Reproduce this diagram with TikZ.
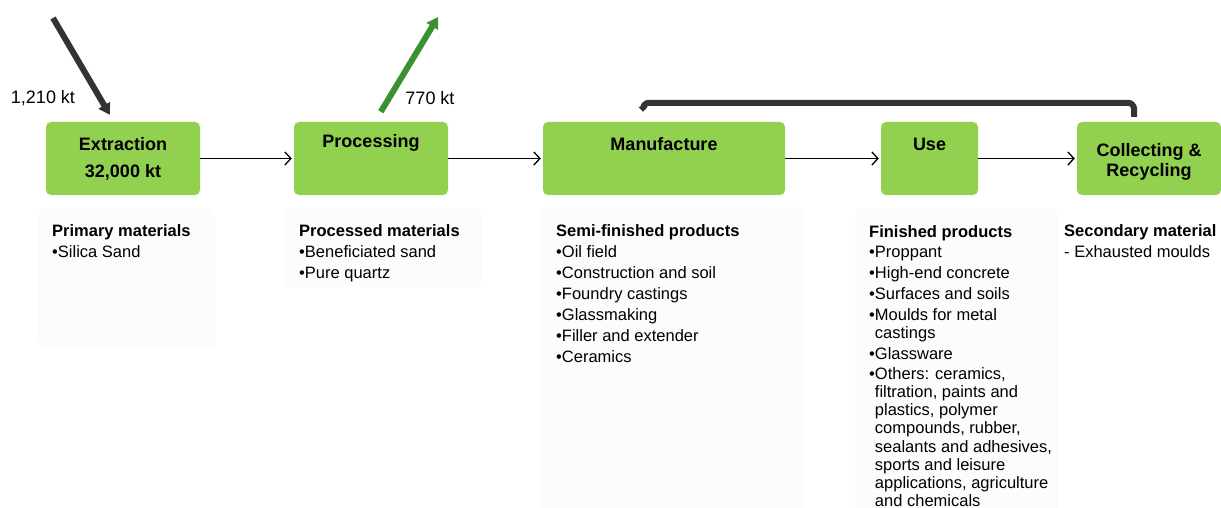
\documentclass[tikz,border=0pt]{standalone}
\usepackage{fontspec}
\setmainfont{Liberation Sans}
\usetikzlibrary{arrows.meta,calc}
\definecolor{stagegreen}{HTML}{92D050}
\definecolor{outgreen}{RGB}{58,145,48}
\definecolor{darkflow}{HTML}{333333}
\definecolor{panelgrey}{HTML}{FCFCFC}
\newcommand{\bul}{\textbullet}
\newcommand{\cont}{\phantom{\textbullet}}

\begin{document}
\begin{tikzpicture}[x=1pt, y=-1pt,
  stage/.style={fill=stagegreen, rounded corners=5pt, inner sep=0pt, minimum height=73pt, align=center,
    font=\fontsize{18}{20}\selectfont\bfseries},
  panel/.style={fill=panelgrey, rounded corners=8pt},
  ptxt/.style={anchor=north west, inner sep=0pt, align=left, font=\fontsize{16.5}{21}\selectfont},
  qty/.style={inner sep=0pt, font=\fontsize{18}{20}\selectfont},
  flow/.style={-{Straight Barb[length=6pt,width=13pt]}, line width=1.3pt, shorten >=2pt},
  bigin/.style={-{Triangle[length=11pt,width=13pt]}, line width=6pt, darkflow},
  bigout/.style={-{Triangle[length=11pt,width=13pt]}, line width=6pt, outgreen},
  loopback/.style={-{Triangle[length=5pt,width=9pt]}, line width=6pt, darkflow, rounded corners=6pt}]
\useasboundingbox (0,0) rectangle (1221,508);
% text panels
\fill[panel] (38,208) rectangle (215,349);
\fill[panel] (284,208) rectangle (482,287);
\fill[panel] (541,207) rectangle (803,520);
\fill[panel] (855,208) rectangle (1058,520);
% stages
\node[stage, minimum width=154pt] (extr) at (123,158.5) {Extraction\\[7pt]32,000 kt};
\node[stage, minimum width=154pt, text height=25.5pt, text depth=47.5pt] (proc) at (371,158.5) {Processing};
\node[stage, minimum width=242pt, text height=28.5pt, text depth=44.5pt] (manu) at (664,158.5) {Manufacture};
\node[stage, minimum width=97pt, text height=28.5pt, text depth=44.5pt] (use) at (929.5,158.5) {Use};
\node[stage, minimum width=144pt] (coll) at (1149,158.5) {\rule{0pt}{19pt}Collecting \&\\[0pt]Recycling};
\draw[flow] (extr) -- (proc);
\draw[flow] (proc) -- (manu);
\draw[flow] (manu) -- (use);
\draw[flow] (use) -- (coll);
% in and out flows
\coordinate (inflow) at (53,18);
\coordinate (outflow) at (438,17);
\draw[bigin] (inflow) -- ($(extr.north west)+(64,-7)$);
\draw[bigout] ($(proc.north west)+(87,-10)$) -- (outflow);
\node[qty] (inqty) at (43,98) {1,210 kt};
\node[qty] (outqty) at (430,98) {770 kt};
\draw[loopback] ($(coll.north)+(-15,-5)$) |- ($(manu.north)+(-21,-19)$) -- ($(manu.north)+(-21,-10)$);
% panel texts
\node[ptxt] (prim) at (52,224) {\textbf{Primary materials}\\ \bul Silica Sand};
\node[ptxt] (procd) at (299,224) {\textbf{Processed materials}\\ \bul Beneficiated sand\\ \bul Pure quartz};
\node[ptxt] (semi) at (556,224) {\textbf{Semi-finished products}\\ \bul Oil field\\ \bul Construction and soil\\
  \bul Foundry castings\\ \bul Glassmaking\\ \bul Filler and extender\\ \bul Ceramics};
\node[ptxt, font=\fontsize{16.5}{18.1}\selectfont] (fin) at (869,225) {\textbf{Finished products}\\[2.7pt]
  \bul Proppant\\[2.7pt] \bul High-end concrete\\[2.7pt] \bul Surfaces and soils\\[2.7pt]
  \bul Moulds for metal\\ \cont castings\\[2.5pt] \bul Glassware\\[2.5pt]
  \bul Others: ceramics,\\ \cont filtration, paints and\\ \cont plastics, polymer\\
  \cont compounds, rubber,\\ \cont sealants and adhesives,\\ \cont sports and leisure\\
  \cont applications, agriculture\\ \cont and chemicals};
\node[ptxt] (sec) at (1064,224) {\textbf{Secondary material}\\ - Exhausted moulds};
\end{tikzpicture}
\end{document}
